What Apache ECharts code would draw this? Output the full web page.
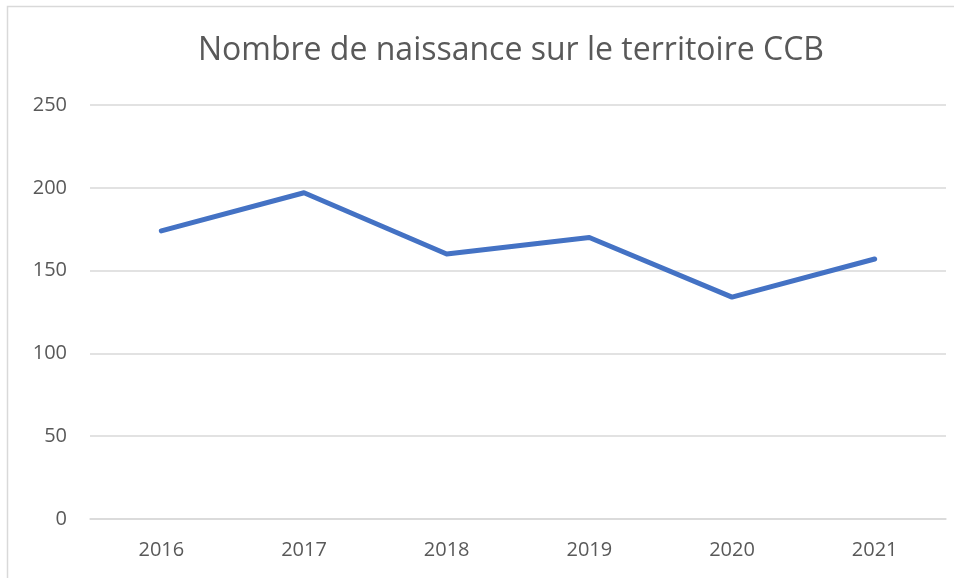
<!DOCTYPE html>
<html>
<head>
<meta charset="utf-8">
<script src="https://cdn.jsdelivr.net/npm/echarts@6/dist/echarts.min.js"></script>
<style>
html,body{margin:0;padding:0;background:#fff;}
#chart{width:954px;height:578px;}
</style>
</head>
<body>
<div id="chart"></div>
<script>
const titleText = 'Nombre de naissance sur le territoire CCB';
const categories = ['2016', '2017', '2018', '2019', '2020', '2021'];
const births = [174, 197, 160, 170, 134, 157];
const yTicks = [0, 50, 100, 150, 200, 250];

const chart = echarts.init(document.getElementById('chart'), null, {renderer: 'canvas'});
const font = '"Open Sans", sans-serif';
chart.setOption({
  animation: false,
  backgroundColor: '#ffffff',
  graphic: [{
    type: 'rect',
    shape: {x: 7.5, y: 6.5, width: 1000, height: 700},
    style: {fill: 'none', stroke: '#d9d9d9', lineWidth: 1.5},
    silent: true
  }],
  title: {
    text: titleText,
    left: 506,
    textAlign: 'center',
    top: 30,
    textStyle: {color: '#595959', fontSize: 32, fontWeight: 'normal', fontFamily: font}
  },
  grid: {left: 90, right: 8, top: 105, bottom: 59, containLabel: false},
  xAxis: {
    type: 'category',
    data: categories,
    boundaryGap: true,
    axisLine: {show: true, lineStyle: {color: '#d9d9d9', width: 1.5}},
    axisTick: {show: false},
    axisLabel: {color: '#595959', fontSize: 20, fontFamily: font, margin: 21}
  },
  yAxis: {
    type: 'value',
    min: yTicks[0],
    max: yTicks[yTicks.length - 1],
    interval: yTicks[1] - yTicks[0],
    axisLine: {show: false},
    axisTick: {show: false},
    splitLine: {lineStyle: {color: '#d9d9d9', width: 1.5}},
    axisLabel: {color: '#595959', fontSize: 20, fontFamily: font, margin: 23}
  },
  series: [{
    type: 'line',
    data: births,
    symbol: 'none',
    lineStyle: {color: '#4472C4', width: 5, cap: 'round', join: 'round'},
    itemStyle: {color: '#4472C4'}
  }]
});
</script>
</body>
</html>
